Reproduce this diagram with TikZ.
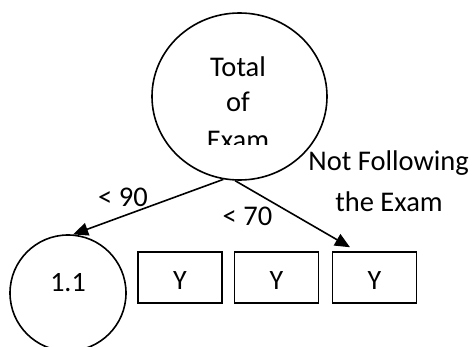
\documentclass[tikz,border=0pt]{standalone}
\usepackage{fontspec}
\setmainfont{Carlito}
\usetikzlibrary{arrows.meta,shapes.geometric}
\tikzset{
  txt/.style={inner sep=0pt, font=\fontsize{28.5}{34}\selectfont, anchor=base},
  ybox/.style={draw, line width=1.5pt, minimum width=84pt, minimum height=51pt, inner sep=0pt,
    text height=25pt, text depth=0pt, font=\fontsize{28}{34}\selectfont},
  arr/.style={line width=1.6pt, -{Triangle[length=15pt,width=13pt]}},
}
\begin{document}
\begin{tikzpicture}[x=1pt,y=-1pt]
\useasboundingbox (0,0) rectangle (474,347);
\fill[white] (0,0) rectangle (474,347);
\clip (0,0) rectangle (474,347);
% top ellipse
\node[ellipse, draw, line width=1.6pt, minimum width=175pt, minimum height=167pt, inner sep=0pt] (top) at (239.5,96.5) {};
\begin{scope}
  \clip (150,0) rectangle (330,145);
  \node[txt] (t1) at (238,77) {Total};
  \node[txt] (t2) at (238,112) {of};
  \node[txt] (t3) at (238,149.5) {Exam};
\end{scope}
% small circle
\node[circle, draw, line width=1.6pt, minimum size=116pt, inner sep=0pt, text height=0pt, text depth=2.6pt,
  font=\fontsize{28}{34}\selectfont] (c11) at (68,293) {1.1};
% boxes
\node[ybox] (y1) at (180,277.5) {Y};
\node[ybox] (y2) at (276.5,277.5) {Y};
\node[ybox] (y3) at (374.5,277.5) {Y};
% arrows
\draw[arr] (top.-101) -- (c11.85);
\draw[arr] (top.-93) -- ([xshift=-24.5pt,yshift=4pt]y3.north);
% labels
\node[txt] (l90) at (123,207) {< 90};
\node[txt] (l70) at (247.5,226) {< 70};
\node[txt] (nf1) at (388.7,171) {Not Following};
\node[txt] (nf2) at (389,212) {the Exam};
\end{tikzpicture}
\end{document}
